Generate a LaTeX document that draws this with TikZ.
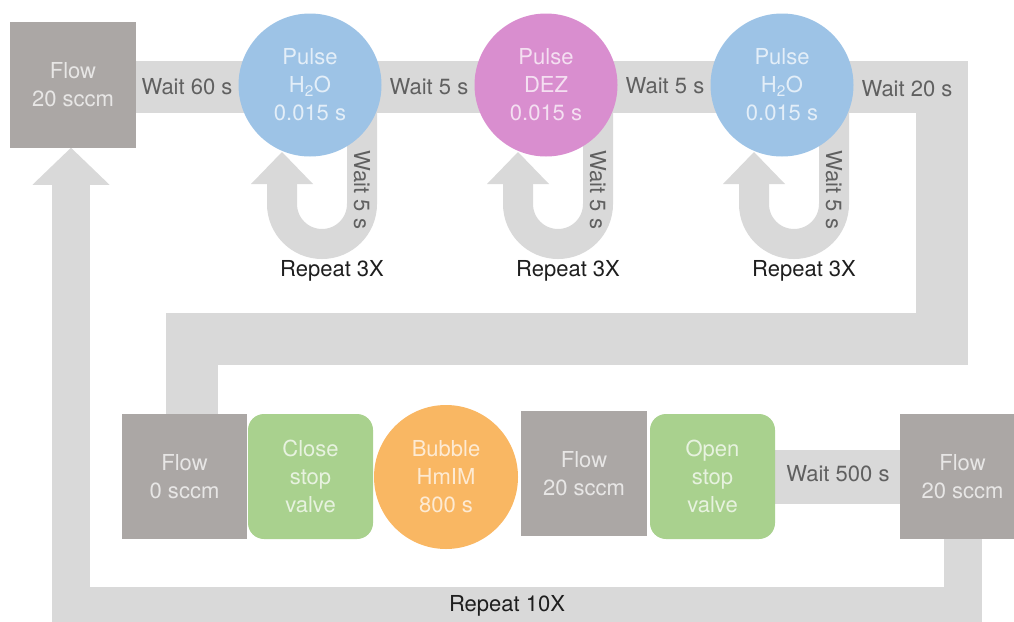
\documentclass[tikz,border=0pt]{standalone}
\usepackage{fontspec}
\setmainfont{TeX Gyre Heros}
\usetikzlibrary{arrows.meta,calc,backgrounds}

\definecolor{flowgray}{HTML}{ABA7A5}
\definecolor{bandgray}{HTML}{D9D9D9}
\definecolor{pulseblue}{HTML}{9DC3E6}
\definecolor{pulsepink}{HTML}{D98ECF}
\definecolor{bubbleorange}{HTML}{F9B763}
\definecolor{valvegreen}{HTML}{A9D18E}
\definecolor{labelgray}{HTML}{606060}
\definecolor{repeatblack}{HTML}{1E1E1E}

\begin{document}
\begin{tikzpicture}[x=1pt, y=-1pt,
  font=\fontsize{22}{28}\selectfont,
  every node/.style={align=center, inner sep=0pt, outer sep=0pt},
  gasbox/.style={rectangle, fill=flowgray, minimum size=125.5pt, text=white, text opacity=0.72},
  pulse/.style={circle, minimum size=143pt, text=white, text opacity=0.72},
  valvebox/.style={rectangle, rounded corners=16pt, fill=valvegreen, minimum size=125pt, text=white, text opacity=0.72},
  band/.style={draw=bandgray, line cap=butt, line join=miter},
  bandlabel/.style={text=labelgray},
  repeatlabel/.style={text=repeatblack},
  bigtip/.style={-{Triangle[width=77pt, length=37pt, line width=0pt]}},
  looptip/.style={-{Triangle[width=62pt, length=32pt, line width=0pt]}},
]
\useasboundingbox (0,0) rectangle (1014,621);
\clip (0,0) rectangle (1014,621);

% ALD steps along the top
\node[gasbox] (flowA) at (73,85) {Flow\\20 sccm};
\node[pulse, fill=pulseblue] (p1) at (310,85) {Pulse\\H\textsubscript{2}O\\0.015 s};
\node[pulse, fill=pulsepink] (p2) at (546,85) {Pulse\\DEZ\\0.015 s};
\node[pulse, fill=pulseblue] (p3) at (782,85) {Pulse\\H\textsubscript{2}O\\0.015 s};

% vapour-phase infiltration steps along the bottom
\node[gasbox] (flow0) at (184.5,476.5) {Flow\\0 sccm};
\node[valvebox] (close) at (310.5,476.5) {Close\\stop\\valve};
\node[circle, minimum size=144pt, fill=bubbleorange, text=white, text opacity=0.72] (bubble) at (446,477) {Bubble\\HmIM\\800 s};
\node[gasbox] (flow20) at (584,473.5) {Flow\\20 sccm};
\node[valvebox] (open) at (712.5,476.5) {Open\\stop\\valve};
\node[gasbox] (flowR) at (962.5,476.5) {Flow\\20 sccm};

% bend points of the wide connectors
\coordinate (tr) at (941.5,87);
\coordinate (br) at (941.5,339);
\coordinate (bl) at (192,339);
\coordinate (lb) at (71,606);

\begin{scope}[on background layer]
  % main sequence band
  \draw[band, line width=52pt] (flowA.east |- tr) -- (tr) -- (br) -- (bl) -- (flow0.north -| bl);
  % wait band between the valve and the last flow step
  \draw[band, line width=54pt] (open.east) -- (flowR.west |- open.east);
  % outer cycle back to the start
  \draw[band, line width=38pt, bigtip] (flowR.south) -- (flowR.south |- lb) -- (lb) -- (flowA.south -| lb);
  % repeat loops under each pulse
  \foreach \p in {p1,p2,p3} {
    \draw[band, line width=30pt, looptip]
      ($(\p.center)+(52,20)$) -- ($(\p.center)+(52,119)$)
      arc[start angle=0, end angle=-180, radius=40pt]
      -- ($(\p.center)+(-28,67)$);
  }
\end{scope}

% labels on the connectors
\node[bandlabel] (w60) at (187,87) {Wait 60 s};
\node[bandlabel] (w5a) at (429,87) {Wait 5 s};
\node[bandlabel] (w5b) at (665,86) {Wait 5 s};
\node[bandlabel] (w20) at (907,89) {Wait 20 s};
\node[bandlabel] (w500) at (838,474) {Wait 500 s};
\node[repeatlabel] (r10) at (507,606) {Repeat 10X};
\foreach \p in {p1,p2,p3} {
  \node[bandlabel, rotate=-90] (\p wait) at ($(\p.center)+(52,105)$) {Wait 5 s};
  \node[repeatlabel] (\p rep) at ($(\p.center)+(22,186)$) {Repeat 3X};
}
\end{tikzpicture}
\end{document}
